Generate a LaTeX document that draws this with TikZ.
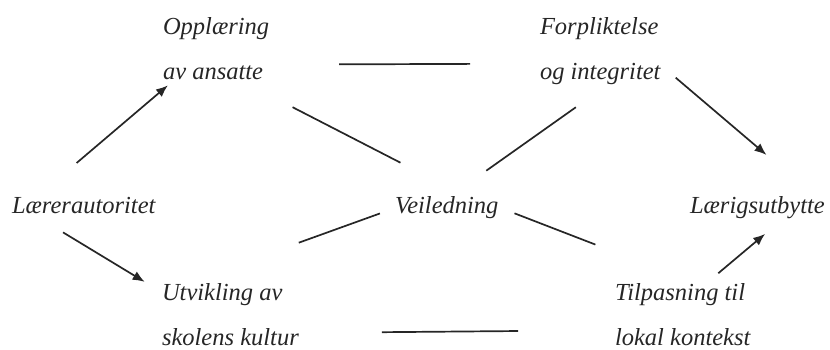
\documentclass[tikz,border=0pt]{standalone}
\usepackage{fontspec}
\setmainfont{Liberation Serif}
\usetikzlibrary{arrows.meta}

\tikzset{
	term/.style={inner sep=0pt, outer sep=0pt, align=left, text=black!85,
		font=\itshape\fontsize{12.3}{22.6}\selectfont},
	link/.style={draw=black!85, line width=0.85bp},
	arrow/.style={link, -{Latex[length=6bp,width=4.8bp]}}
}

\begin{document}
\begin{tikzpicture}[x=0.5bp, y=-0.5bp]
	\useasboundingbox (0,0) rectangle (830,349);

	% the seven terms
	\node[term, anchor=base west] (laerer) at (12,213) {Lærerautoritet};
	\node[term, anchor=north west] (opplaering) at (163,17.2) {Opplæring\\av ansatte};
	\node[term, anchor=north west] (utvikling) at (162,283.4) {Utvikling av\\skolens kultur};
	\node[term, anchor=base west] (veiledning) at (395,213) {Veiledning};
	\node[term, anchor=north west] (forpliktelse) at (540,17.2) {Forpliktelse\\og integritet};
	\node[term, anchor=north west] (tilpasning) at (615,283.4) {Tilpasning til\\lokal kontekst};
	\node[term, anchor=base west] (utbytte) at (690,213) {Lærigsutbytte};

	% arrows out of and into the ends
	\draw[arrow, shorten <=26.1bp, shorten >=4.5bp] (laerer.170.1) -- (opplaering.217.8);
	\draw[arrow, shorten <=18.4bp, shorten >=10.1bp] (laerer.189.3) -- (utvikling.162.2);
	\draw[arrow, shorten <=10bp, shorten >=31.7bp] (forpliktelse.347.7) -- (utbytte.11.8);
	\draw[arrow, shorten <=7.9bp, shorten >=12.1bp] (tilpasning.53.7) -- (utbytte.337.8);

	% plain links
	\draw[link, shorten <=35bp, shorten >=35bp] (opplaering.343.4) -- (forpliktelse.192.7);
	\draw[link, shorten <=41.5bp, shorten >=48.5bp] (utvikling.345.2) -- (tilpasning.193.5);
	\draw[link, shorten <=30.3bp, shorten >=36.4bp] (opplaering.306.8) -- (veiledning.31);
	\draw[link, shorten <=21.9bp, shorten >=19.7bp] (veiledning.71) -- (forpliktelse.283.4);
	\draw[link, shorten <=60bp, shorten >=8bp] (utvikling.145) -- (veiledning.181.5);
	\draw[link, shorten <=8.6bp, shorten >=53.9bp] (veiledning.0) -- (tilpasning.67.7);
\end{tikzpicture}
\end{document}
